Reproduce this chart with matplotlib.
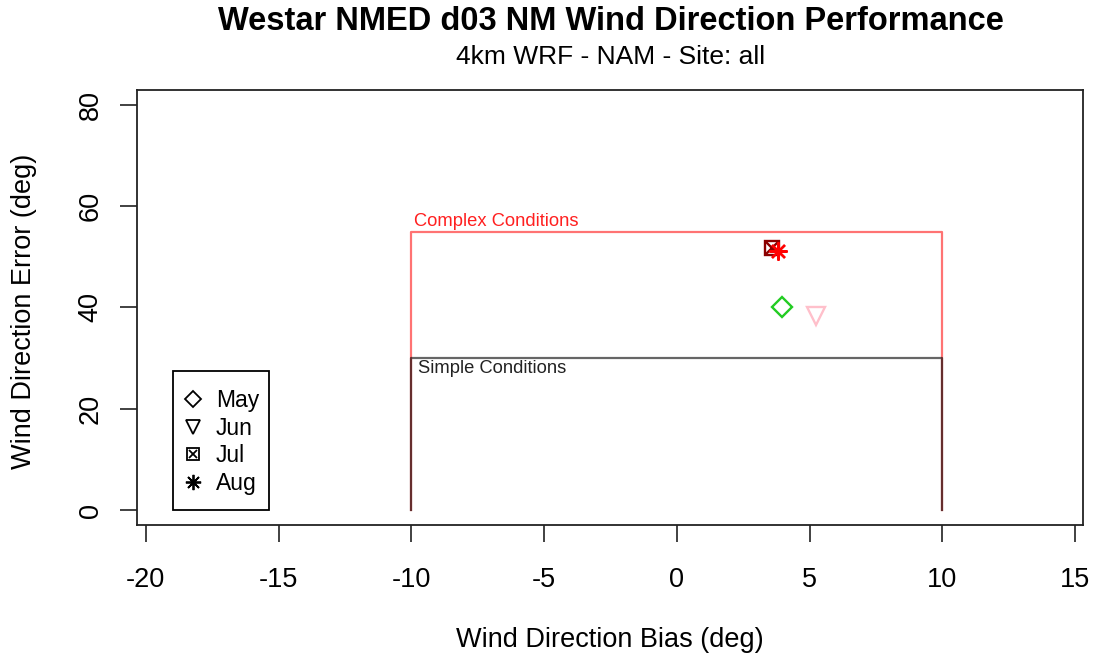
import matplotlib
matplotlib.use("Agg")
import matplotlib.pyplot as plt
from matplotlib.lines import Line2D
from matplotlib.patches import Rectangle
from matplotlib.legend_handler import HandlerTuple

plt.rcParams['font.family'] = ['Liberation Sans', 'DejaVu Sans']

# Monthly wind direction statistics
months = ["May", "Jun", "Jul", "Aug"]
bias = [3.95, 5.25, 3.6, 3.8]
error = [40.0, 38.3, 51.8, 51.1]
colors = ["#22cc22", "#ffc0cb", "#8b0000", "#ff0000"]

# Performance benchmark zones (bias limit, error limit)
complex_bias = 10
complex_error = 55
simple_bias = 10
simple_error = 30

x_ticks = [-20, -15, -10, -5, 0, 5, 10, 15]
y_ticks = [0, 20, 40, 60, 80]

W, H = 1099, 662
fig = plt.figure(figsize=(W / 100, H / 100), dpi=100)
ax = fig.add_axes([137 / W, (H - 525) / H, (1083 - 137) / W, (525 - 90) / H])

# Benchmark boxes: drawn open at the bottom
ax.plot([-complex_bias, -complex_bias, complex_bias, complex_bias],
        [0, complex_error, complex_error, 0], color=(1, 0, 0, 0.55), lw=1.6)
ax.plot([-simple_bias, -simple_bias, simple_bias, simple_bias],
        [0, simple_error, simple_error, 0], color=(0, 0, 0, 0.6), lw=1.6)
ax.text(-complex_bias + 0.1, complex_error + 0.3, "Complex Conditions",
        color="#ff2020", fontsize=13.2, ha="left", va="bottom")
ax.text(-simple_bias + 0.25, simple_error - 0.3, "Simple Conditions",
        color="#222222", fontsize=13.2, ha="left", va="top")

mew = 1.7
# May: open diamond
ax.plot(bias[0], error[0], marker="D", ms=10, mfc="none", mec=colors[0], mew=mew, ls="none")
# Jun: open down triangle
ax.plot(bias[1], error[1], marker="v", ms=13, mfc="none", mec=colors[1], mew=mew, ls="none")
# Jul: boxed cross
ax.plot(bias[2], error[2], marker="s", ms=10, mfc="none", mec=colors[2], mew=mew, ls="none")
ax.plot(bias[2], error[2], marker="x", ms=8, mec=colors[2], mew=mew, ls="none")
# Aug: asterisk
ax.plot(bias[3], error[3], marker=(8, 2, 0), ms=13, mec=colors[3], mew=mew, ls="none")

ax.set_xlim(-20.33, 15.30)
ax.set_ylim(-2.96, 82.96)
ax.set_xticks(x_ticks)
ax.set_yticks(y_ticks)
ax.set_xticklabels([str(t) for t in x_ticks])
ax.set_yticklabels([str(t) for t in y_ticks], rotation=90, va="center")
ax.tick_params(axis="both", labelsize=19.5, length=12, width=1.3, color="#333333")
ax.tick_params(axis="x", pad=18)
ax.tick_params(axis="y", pad=12)
for sp in ax.spines.values():
    sp.set_linewidth(1.3)
    sp.set_color("#222222")

fig.text(610 / W, 1 - 640 / H, "Wind Direction Bias (deg)",
         fontsize=19.5, ha="center", va="center")
fig.text(24 / W, 1 - 311 / H, "Wind Direction Error (deg)",
         fontsize=19.5, ha="center", va="center", rotation=90)

fig.text(611 / W, 1 - 22 / H, "Westar NMED d03 NM Wind Direction Performance",
         fontsize=23.5, fontweight="bold", ha="center", va="center")
fig.text(611 / W, 1 - 57 / H, "4km WRF - NAM - Site: all",
         fontsize=19, ha="center", va="center")

# Legend with black symbols inside a separately drawn frame
h_may = Line2D([], [], marker="D", ms=8, mfc="none", mec="black", mew=1.3, ls="none")
h_jun = Line2D([], [], marker="v", ms=10, mfc="none", mec="black", mew=1.3, ls="none")
h_jul = (Line2D([], [], marker="s", ms=8, mfc="none", mec="black", mew=1.3, ls="none"),
         Line2D([], [], marker="x", ms=6, mec="black", mew=1.3, ls="none"))
h_aug = Line2D([], [], marker=(8, 2, 0), ms=11, mec="black", mew=1.3, ls="none")
leg = ax.legend([h_may, h_jun, h_jul, h_aug], months,
                handler_map={tuple: HandlerTuple(ndivide=1, pad=0)},
                loc="center", bbox_to_anchor=(222 / W, 1 - 442 / H),
                bbox_transform=fig.transFigure, fontsize=16.5, frameon=False,
                handlelength=0.7, handletextpad=0.65, borderpad=0.0,
                labelspacing=0.2, borderaxespad=0)
fig.patches.append(Rectangle((173 / W, 1 - 510 / H), (269 - 173) / W, (510 - 371) / H,
                             transform=fig.transFigure, fill=False,
                             edgecolor="black", linewidth=1.3, zorder=5))

fig.savefig("out.png", dpi=100)
